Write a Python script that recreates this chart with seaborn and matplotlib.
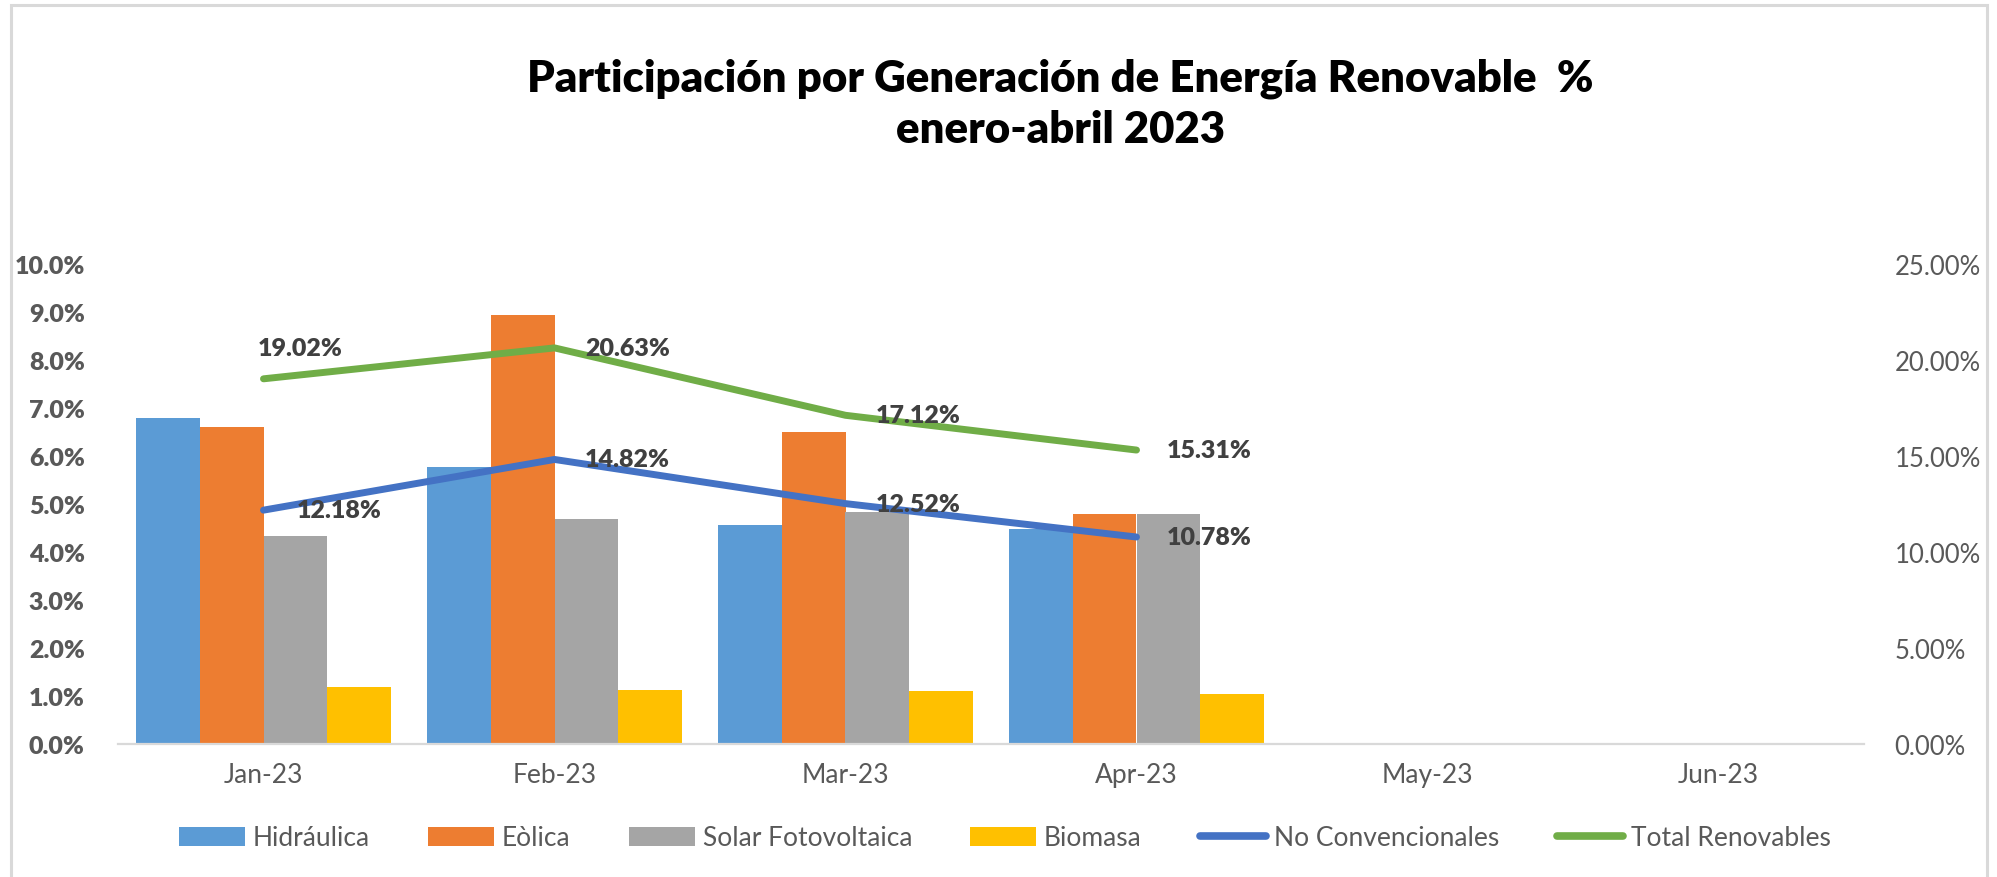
import numpy as np
import pandas as pd
import matplotlib
matplotlib.use("Agg")
import matplotlib.pyplot as plt
import seaborn as sns
from matplotlib.ticker import PercentFormatter, FixedLocator
from matplotlib.patches import Patch, Rectangle
from matplotlib.lines import Line2D

# ---------------- data ----------------
meses = ["Jan-23", "Feb-23", "Mar-23", "Apr-23", "May-23", "Jun-23"]
fuentes = ["Hidráulica", "Eòlica", "Solar Fotovoltaica", "Biomasa"]
hidraulica = [0.0680, 0.0577, 0.0456, 0.0448]
eolica = [0.0660, 0.0893, 0.0649, 0.0480]
solar = [0.0433, 0.0468, 0.0483, 0.0480]
biomasa = [0.0118, 0.0113, 0.0110, 0.0105]
no_convencionales = [0.1218, 0.1482, 0.1252, 0.1078]
total_renovables = [0.1902, 0.2063, 0.1712, 0.1531]

colores_barras = ["#5B9BD5", "#ED7D31", "#A5A5A5", "#FFC000"]
color_noconv = "#4472C4"
color_total = "#70AD47"

sns.set_theme(style="white")
plt.rcParams["font.family"] = ["Lato", "DejaVu Sans"]

rows = []
for serie, vals in zip(fuentes, [hidraulica, eolica, solar, biomasa]):
    for m, v in zip(meses, vals):
        rows.append({"mes": m, "fuente": serie, "valor": v})
df = pd.DataFrame(rows)

W, H = 1997, 878
fig = plt.figure(figsize=(W / 100, H / 100), dpi=100)
fig.patch.set_facecolor("white")

ax = fig.add_axes([118 / W, 1 - 745 / H, (1864 - 118) / W, (745 - 265) / H])
sns.barplot(data=df, x="mes", y="valor", hue="fuente", order=meses,
            hue_order=fuentes, palette=colores_barras, width=0.877,
            saturation=1, errorbar=None, legend=False, linewidth=0, ax=ax)
ax.set_xlim(-0.5, len(meses) - 0.5)
ax.set_ylim(0, 0.10)
ax.set_yticks(np.arange(0, 0.1001, 0.01))
ax.yaxis.set_major_formatter(PercentFormatter(xmax=1, decimals=1))
ax.set_xlabel("")
ax.set_ylabel("")
gray_txt = "#595959"
ax.tick_params(axis="y", length=0, pad=24, labelsize=18, labelcolor=gray_txt)
for t in ax.get_yticklabels():
    t.set_fontweight("heavy")
ax.tick_params(axis="x", which="major", length=0, pad=13, labelsize=19, labelcolor=gray_txt)
ax.xaxis.set_minor_locator(FixedLocator(np.arange(-0.5, len(meses), 1.0)))
ax.tick_params(axis="x", which="minor", length=9, width=1.5, color="#D9D9D9", direction="out")
for s in ["top", "left", "right"]:
    ax.spines[s].set_visible(False)
ax.spines["bottom"].set_color("#D9D9D9")
ax.spines["bottom"].set_linewidth(1.6)
ax.grid(False)

ax2 = ax.twinx()
xs = np.arange(len(total_renovables))
sns.lineplot(x=xs, y=no_convencionales, color=color_noconv, linewidth=5, ax=ax2,
             solid_capstyle="round")
sns.lineplot(x=xs, y=total_renovables, color=color_total, linewidth=5, ax=ax2,
             solid_capstyle="round")
ax2.set_ylim(0, 0.25)
ax2.set_yticks(np.arange(0, 0.2501, 0.05))
ax2.yaxis.set_major_formatter(PercentFormatter(xmax=1, decimals=2))
ax2.tick_params(axis="y", length=0, pad=22, labelsize=18.5, labelcolor=gray_txt)
for s in ["top", "left", "right", "bottom"]:
    ax2.spines[s].set_visible(False)
ax2.grid(False)
ax2.set_xlim(-0.5, len(meses) - 0.5)

lbl_color = "#404040"
for i, v in enumerate(total_renovables):
    if i == 0:
        ax2.annotate(f"{v*100:.2f}%", (i, v), xytext=(-4, 22), textcoords="offset points",
                     ha="left", va="center", fontsize=18, fontweight="heavy", color=lbl_color)
    else:
        ax2.annotate(f"{v*100:.2f}%", (i, v), xytext=(22, 0), textcoords="offset points",
                     ha="left", va="center", fontsize=18, fontweight="heavy", color=lbl_color)
for i, v in enumerate(no_convencionales):
    ax2.annotate(f"{v*100:.2f}%", (i, v), xytext=(24 if i == 0 else 22, 0),
                 textcoords="offset points", ha="left", va="center",
                 fontsize=18, fontweight="heavy", color=lbl_color)

# title
fig.text(0.531, 1 - 79 / H, "Participación por Generación de Energía Renovable  %",
         ha="center", va="center", fontsize=31.5, fontweight="heavy", color="black")
fig.text(0.531, 1 - 130 / H, "enero-abril 2023",
         ha="center", va="center", fontsize=31.5, fontweight="heavy", color="black")

# legend
handles = [Patch(facecolor=c, edgecolor="none") for c in colores_barras]
handles += [Line2D([0], [0], color=color_noconv, lw=5.5, solid_capstyle="round"),
            Line2D([0], [0], color=color_total, lw=5.5, solid_capstyle="round")]
labels = fuentes + ["No Convencionales", "Total Renovables"]
leg = fig.legend(handles, labels, loc="center", bbox_to_anchor=(1005 / W, 1 - 839 / H),
                 ncol=6, frameon=False, fontsize=19, handlelength=2.5, handleheight=0.7,
                 handletextpad=0.3, columnspacing=2.2)
for t in leg.get_texts():
    t.set_color(gray_txt)

# chart border
fig.add_artist(Rectangle((11 / W, -0.05), (1987 - 11) / W, 1.05 - 6 / H,
                         transform=fig.transFigure, fill=False,
                         edgecolor="#D9D9D9", linewidth=2.2))

fig.savefig("out.png", dpi=100, facecolor="white")
